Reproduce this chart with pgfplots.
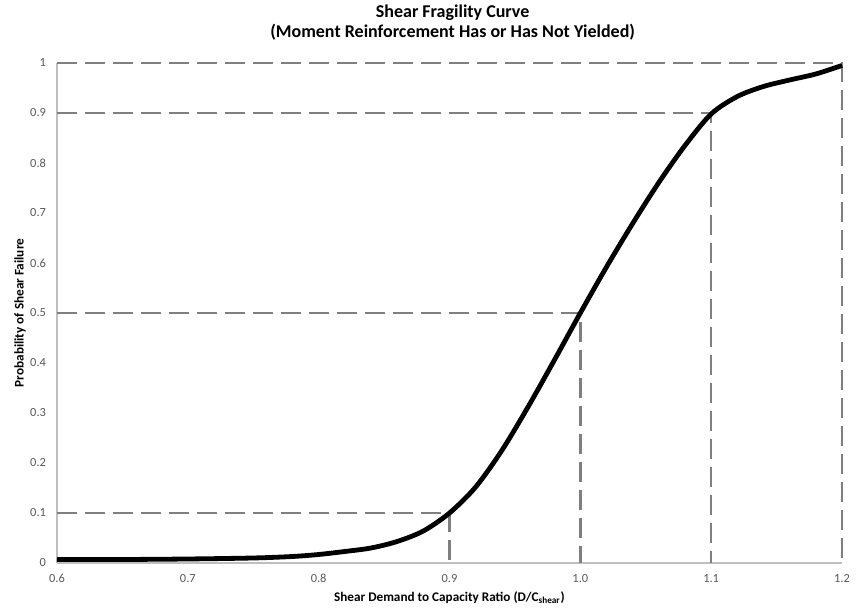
\documentclass[border=0pt]{standalone}
\usepackage{pgfplots}
\pgfplotsset{compat=1.18}
\usepackage{fontspec}
\setmainfont{Carlito}
\definecolor{ticklab}{HTML}{595959}
\definecolor{axl}{HTML}{BFBFBF}
\definecolor{dashgray}{HTML}{7F7F7F}
\begin{document}
\begin{tikzpicture}
\path[use as bounding box] (-28.5pt,-25pt) rectangle (399.5pt,281.5pt);
\begin{axis}[
  at={(0,0)}, anchor=origin,
  scale only axis, width=392.5pt, height=250pt,
  xmin=0.6, xmax=1.2, ymin=0, ymax=1,
  axis x line=bottom, axis y line=left,
  axis line style={-, axl, line width=0.8pt},
  xtick={0.6,0.7,0.8,0.9,1.0,1.1,1.2},
  ytick={0,0.1,0.2,0.3,0.4,0.5,0.6,0.7,0.8,0.9,1},
  major tick length=0pt,
  xticklabels={0.6,0.7,0.8,0.9,1.0,1.1,1.2},
  yticklabels={0,0.1,0.2,0.3,0.4,0.5,0.6,0.7,0.8,0.9,1},
  tick label style={font=\fontsize{6.2}{7}\selectfont, text=ticklab},
  xticklabel style={yshift=-2pt},
  yticklabel style={xshift=-2pt},
  xlabel={\textbf{Shear Demand to Capacity Ratio (D/C\textsubscript{shear})}},
  ylabel={\textbf{Probability of Shear Failure}},
  label style={font=\fontsize{6.6}{8}\selectfont},
  xlabel style={at={(axis description cs:0.5,-0.07)}, anchor=center},
  ylabel style={at={(axis description cs:-0.047,0.5)}, anchor=center},
  clip=false,
]
\addplot[dashgray, line width=1.3pt, dash pattern=on 10pt off 4pt] coordinates {(0.6,0.1) (0.9,0.1) (0.9,0)};
\addplot[dashgray, line width=1.3pt, dash pattern=on 10pt off 4pt] coordinates {(0.6,0.5) (1.0,0.5) (1.0,0)};
\addplot[dashgray, line width=1.3pt, dash pattern=on 10pt off 4pt] coordinates {(0.6,0.9) (1.1,0.9) (1.1,0)};
\addplot[dashgray, line width=1.3pt, dash pattern=on 10pt off 4pt] coordinates {(0.6,1.0) (1.2,1.0) (1.2,0)};
\addplot[black, line width=2.4pt, smooth, tension=0.5] coordinates {
(0.60,0.007) (0.65,0.007) (0.70,0.008) (0.75,0.010) (0.78,0.013) (0.80,0.017)
(0.82,0.023) (0.84,0.030) (0.86,0.043) (0.88,0.064) (0.90,0.100) (0.92,0.152)
(0.94,0.225) (0.96,0.312) (0.98,0.405) (1.00,0.500) (1.02,0.592) (1.04,0.679)
(1.06,0.761) (1.08,0.835) (1.10,0.898) (1.12,0.933) (1.14,0.953) (1.16,0.966)
(1.18,0.978) (1.20,0.995)};
\node[font=\fontsize{9}{10}\selectfont\bfseries, anchor=center] at (rel axis cs:0.504,1.1) {Shear Fragility Curve};
\node[font=\fontsize{9}{10}\selectfont\bfseries, anchor=center] at (rel axis cs:0.504,1.062) {(Moment Reinforcement Has or Has Not Yielded)};
\end{axis}
\end{tikzpicture}
\end{document}
